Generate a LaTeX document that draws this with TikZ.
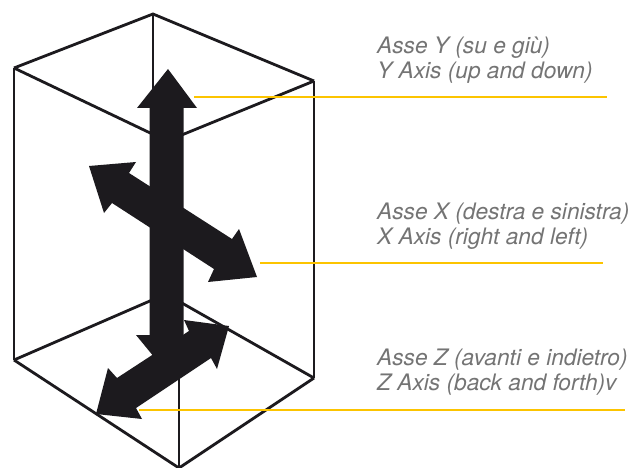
\documentclass[tikz,border=0pt]{standalone}
\usepackage{fontspec}
\setmainfont{TeX Gyre Heros}
\definecolor{ink}{HTML}{1C1A1E}
\definecolor{gold}{HTML}{FCC400}
\definecolor{labelgray}{HTML}{747474}
\tikzset{
  edgeline/.style={draw=ink,line width=2.8pt,line join=miter},
  arrowshape/.style={fill=ink,draw=none},
  leader/.style={draw=gold,line width=2.8pt},
  axislabel/.style={anchor=west,align=left,inner sep=0pt,text=labelgray,
    font=\fontsize{22.7}{25}\selectfont\itshape}
}
\begin{document}
\begin{tikzpicture}[x=1pt,y=-1pt]
\useasboundingbox (0,0) rectangle (632,468);
\fill[white] (0,0) rectangle (632,468);
% box vertices
\coordinate (tb) at (153,14);
\coordinate (tl) at (14,68);
\coordinate (tr) at (314,81);
\coordinate (tf) at (167,141);
\coordinate (bb) at (166,294);
\coordinate (bl) at (14,360);
\coordinate (br) at (314,378);
\coordinate (bf) at (179,468);
\coordinate (tbdown) at (153,100);
\coordinate (bfup) at (179,370);
\draw[edgeline] (tl) -- (tb) -- (tr);
\draw[edgeline] (tl) -- (tf) -- (tr);
\draw[edgeline] (tb) -- (tbdown);
\draw[edgeline] (tl) -- (bl);
\draw[edgeline] (tr) -- (br);
\draw[edgeline] (bl) -- (bb) -- (br);
\draw[edgeline] (bl) -- (bf) -- (br);
\draw[edgeline] (bf) -- (bfup);
% Y axis double arrow
\fill[arrowshape] (168,69) -- (197,108) -- (183.7,108) -- (183.7,335) -- (197,335)
  -- (168,374) -- (136,335) -- (149.5,335) -- (149.5,108) -- (137,108) -- cycle;
% X axis double arrow
\fill[arrowshape] (89,166) -- (136,162) -- (129,173) -- (232,239) -- (239,229)
  -- (257,277) -- (208,282) -- (214,269) -- (112,203) -- (104,213) -- cycle;
% Z axis double arrow
\fill[arrowshape] (96,414) -- (108,368) -- (117,378) -- (189,331) -- (184,320)
  -- (229,326) -- (217,369) -- (211,358) -- (136,408) -- (142,419) -- cycle;
% labels
\node[axislabel] (ylabel) at (377,60) {Asse Y (su e giù)\\Y Axis (up and down)};
\node[axislabel] (xlabel) at (377,226) {Asse X (destra e sinistra)\\X Axis (right and left)};
\node[axislabel] (zlabel) at (377,372) {Asse Z (avanti e indietro)\\Z Axis (back and forth)v};
% leaders
\coordinate (ya) at (194,97);
\coordinate (yb) at (607,97);
\coordinate (xa) at (260,263);
\coordinate (xb) at (603,263);
\coordinate (za) at (139,410);
\coordinate (zb) at (625,410);
\draw[leader] (ya) -- (yb);
\draw[leader] (xa) -- (xb);
\draw[leader] (za) -- (zb);
\end{tikzpicture}
\end{document}
